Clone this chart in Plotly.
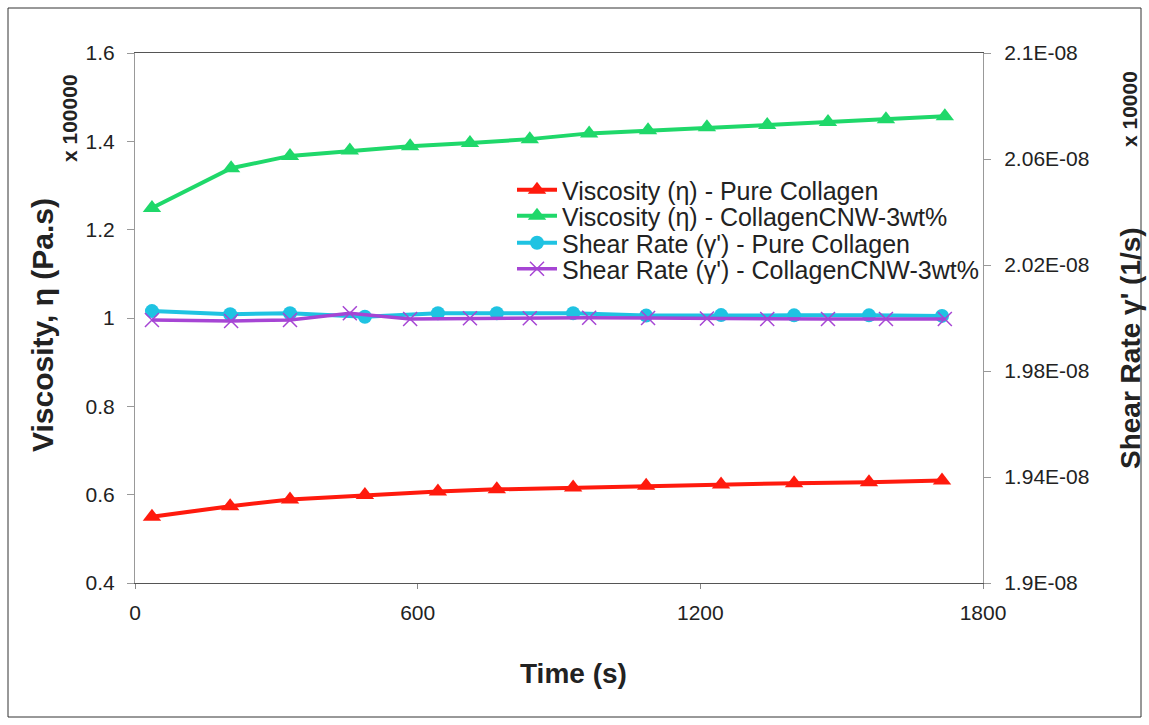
import plotly.graph_objects as go

# ---- data ----
time_pure = [36, 202, 329, 488, 643, 768, 930, 1085, 1244, 1399, 1558, 1713]
time_cnw = [36, 204, 329, 456, 584, 711, 838, 964, 1089, 1214, 1342, 1471, 1594, 1719]

visc_pure = [0.550, 0.574, 0.589, 0.599, 0.607, 0.612, 0.616, 0.620, 0.623, 0.626, 0.628, 0.632]
visc_cnw = [1.249, 1.339, 1.367, 1.379, 1.389, 1.396, 1.405, 1.418, 1.425, 1.432, 1.437, 1.444, 1.450, 1.457]

shear_pure = [2.0026e-08, 2.0014e-08, 2.0018e-08, 2.0005e-08, 2.0018e-08, 2.0018e-08,
              2.0018e-08, 2.0009e-08, 2.0011e-08, 2.0010e-08, 2.0010e-08, 2.0008e-08]
shear_cnw = [1.99925e-08, 1.99887e-08, 1.99925e-08, 2.00177e-08, 1.99962e-08, 1.99989e-08,
             1.99989e-08, 2.0001e-08, 2.0000e-08, 1.9998e-08, 1.99962e-08, 1.99962e-08,
             1.99962e-08, 1.99962e-08]

names = ["Viscosity (η) - Pure Collagen", "Viscosity (η) - CollagenCNW-3wt%",
         "Shear Rate (γ') - Pure Collagen", "Shear Rate (γ') - CollagenCNW-3wt%"]

x_ticks = [0, 600, 1200, 1800]
y_ticks = [0.4, 0.6, 0.8, 1.0, 1.2, 1.4, 1.6]
y_ticktext = ["0.4", "0.6", "0.8", "1", "1.2", "1.4", "1.6"]
y2_ticks = [1.9e-08, 1.94e-08, 1.98e-08, 2.02e-08, 2.06e-08, 2.1e-08]
y2_ticktext = ["1.9E-08", "1.94E-08", "1.98E-08", "2.02E-08", "2.06E-08", "2.1E-08"]

RED = "#ff1a0d"
GREEN = "#1fd86a"
CYAN = "#1fc3e2"
PURPLE = "#a645d4"

FONT = "Liberation Sans, Arial, sans-serif"

fig = go.Figure()
fig.add_trace(go.Scatter(x=time_pure, y=visc_pure, name=names[0], mode="lines+markers",
                         legend="legend",
                         line=dict(color=RED, width=4),
                         marker=dict(symbol="triangle-up", size=16, color=RED)))
fig.add_trace(go.Scatter(x=time_cnw, y=visc_cnw, name=names[1], mode="lines+markers",
                         legend="legend2",
                         line=dict(color=GREEN, width=4),
                         marker=dict(symbol="triangle-up", size=16, color=GREEN)))
fig.add_trace(go.Scatter(x=time_pure, y=shear_pure, name=names[2], mode="lines+markers",
                         legend="legend3",
                         yaxis="y2", line=dict(color=CYAN, width=4),
                         marker=dict(symbol="circle", size=14, color=CYAN)))
fig.add_trace(go.Scatter(x=time_cnw, y=shear_cnw, name=names[3], mode="lines+markers",
                         legend="legend4",
                         yaxis="y2", line=dict(color=PURPLE, width=3.5),
                         marker=dict(symbol="x-thin", size=14, color=PURPLE,
                                     line=dict(color=PURPLE, width=1.5))))

L, R, T, B = 135, 983, 53, 583
W, H = 1149, 725

def px(xp):
    return (xp - L) / (R - L)

def py(yp):
    return (B - yp) / (B - T)

def leg(row_y):
    return dict(x=px(512), y=py(row_y), xanchor="left", yanchor="middle",
                bgcolor="rgba(0,0,0,0)",
                font=dict(family=FONT, size=25, color="#222"),
                itemwidth=40)

fig.update_layout(
    width=W, height=H,
    margin=dict(l=L, r=W - R, t=T, b=H - B),
    paper_bgcolor="white", plot_bgcolor="white",
    font=dict(family=FONT, size=21, color="#222"),
    showlegend=True,
    legend=leg(190), legend2=leg(216), legend3=leg(243), legend4=leg(269),
    xaxis=dict(range=[0, 1800], tickvals=x_ticks, showgrid=False, zeroline=False,
               showline=True, linecolor="#555", linewidth=1, mirror=True,
               ticks="outside", ticklen=5, tickcolor="#888", ticklabelstandoff=6,
               tickfont=dict(size=21, color="#222")),
    yaxis=dict(range=[0.4, 1.6], tickvals=y_ticks, ticktext=y_ticktext, showgrid=False,
               zeroline=False, showline=True, linecolor="#999", linewidth=1,
               ticks="outside", ticklen=7, tickcolor="#999", ticklabelstandoff=8,
               tickfont=dict(size=21, color="#222")),
    yaxis2=dict(range=[1.9e-08, 2.1e-08], tickvals=y2_ticks, ticktext=y2_ticktext,
                overlaying="y", side="right", showgrid=False, zeroline=False,
                showline=True, linecolor="#999", linewidth=1,
                ticks="outside", ticklen=7, tickcolor="#999", ticklabelstandoff=9,
                tickfont=dict(size=21, color="#222")),
)

ann = [
    dict(text="<b>Time (s)</b>", x=px(573), y=py(673), font=dict(size=28)),
    dict(text="<b>Viscosity, η (Pa.s)</b>", x=px(42), y=py(325), textangle=-90, font=dict(size=30)),
    dict(text="<b>x 100000</b>", x=px(70), y=py(118), textangle=-90, font=dict(size=21)),
    dict(text="<b>Shear Rate γ' (1/s)</b>", x=px(1130), y=py(348), textangle=-90, font=dict(size=28)),
    dict(text="<b>x 10000</b>", x=px(1130), y=py(109), textangle=-90, font=dict(size=21)),
]
for a in ann:
    fig.add_annotation(xref="paper", yref="paper", showarrow=False,
                       xanchor="center", yanchor="middle", **a)

# outer frame
fig.add_shape(type="rect", xref="paper", yref="paper",
              x0=px(8), x1=px(1141), y0=py(717), y1=py(8),
              line=dict(color="#333", width=1), layer="below")

fig.write_html("out.html")
